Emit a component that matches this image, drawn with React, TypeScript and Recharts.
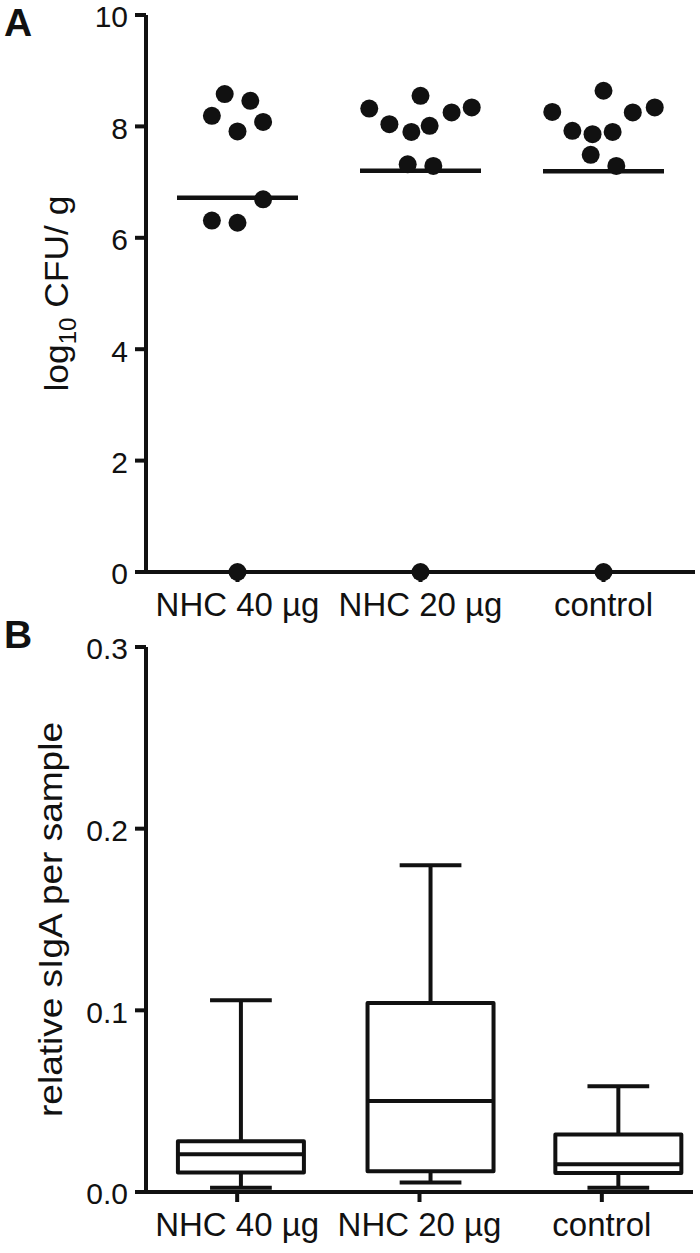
import React from 'react'
import { ComposedChart, Scatter, Bar, XAxis, YAxis } from 'recharts'

const groups = ['NHC 40 µg', 'NHC 20 µg', 'control']

// A: log10 CFU/g per animal; spread = horizontal place inside the column (category units)
const cfuNhc40 = [8.58, 8.46, 8.19, 8.08, 7.91, 6.69, 6.31, 6.27, 0]
const spreadNhc40 = [-0.07, 0.07, -0.14, 0.14, 0, 0.14, -0.14, 0, 0]
const cfuNhc20 = [8.32, 8.55, 8.04, 7.9, 8.01, 8.25, 8.34, 7.32, 7.29, 0]
const spreadNhc20 = [-0.28, 0, -0.17, -0.05, 0.05, 0.17, 0.28, -0.07, 0.07, 0]
const cfuControl = [8.64, 8.26, 8.34, 8.25, 7.92, 7.86, 7.9, 7.49, 7.29, 0]
const spreadControl = [0, -0.28, 0.28, 0.16, -0.17, -0.06, 0.05, -0.07, 0.07, 0]
const cfuTicks = [0, 2, 4, 6, 8, 10]

// B: relative sIgA, box and whiskers (min / Q1 / median / Q3 / max)
const sigaMin = [0.0024, 0.0052, 0.0024]
const sigaQ1 = [0.0107, 0.0114, 0.0105]
const sigaMedian = [0.0208, 0.0501, 0.0153]
const sigaQ3 = [0.0279, 0.1041, 0.0316]
const sigaMax = [0.1056, 0.1799, 0.0582]
const boxCenter = [0.02, 1.06, 2.09]
const sigaTicks = [0, 0.1, 0.2, 0.3]

const INK = '#111'
const FONT = '"Liberation Sans", Arial, Helvetica, sans-serif'
const LW = 4

const cfuSets = [
  { v: cfuNhc40, s: spreadNhc40 },
  { v: cfuNhc20, s: spreadNhc20 },
  { v: cfuControl, s: spreadControl },
]
const dots = cfuSets.flatMap((g, i) => g.v.map((v, k) => ({ x: i + g.s[k], y: v })))
const means = cfuSets.map((g, i) => ({ x: i, y: g.v.reduce((a, b) => a + b, 0) / g.v.length }))

const boxes = groups.map((g, i) => ({
  x: boxCenter[i], min: sigaMin[i], q1: sigaQ1[i], med: sigaMedian[i], q3: sigaQ3[i], max: sigaMax[i],
}))

const Dot = (p: any) => <circle cx={p.cx} cy={p.cy} r={9} fill={INK} />
const MeanLine = (p: any) => (
  <line x1={p.cx - 60.5} x2={p.cx + 60.5} y1={p.cy} y2={p.cy} stroke={INK} strokeWidth={4.5} />
)

function BoxShape(props: any) {
  const { x, y, width, height, payload: d } = props
  const py = (v: number) => y + ((d.max - v) / (d.max - d.min)) * height
  const cx = x + width / 2
  const cap = width * 0.245
  const yMax = py(d.max), yQ3 = py(d.q3), yMed = py(d.med), yQ1 = py(d.q1), yMin = py(d.min)
  return (
    <g stroke={INK} strokeWidth={LW} fill="none" strokeLinejoin="round">
      <line x1={cx} x2={cx} y1={yMax} y2={yQ3} />
      <line x1={cx} x2={cx} y1={yQ1} y2={yMin} />
      <line x1={cx - cap} x2={cx + cap} y1={yMax} y2={yMax} />
      <line x1={cx - cap} x2={cx + cap} y1={yMin} y2={yMin} />
      <rect x={x} y={yQ3} width={width} height={yQ1 - yQ3} fill="#fff" />
      <line x1={x} x2={x + width} y1={yMed} y2={yMed} />
    </g>
  )
}

// y tick text, kept a touch low so the top label stays inside the page
const makeYTick = (fmt: (v: number) => string) => (p: any) => (
  <text x={p.x} y={p.y} dy={12.4} textAnchor="end" fontSize={30} fill={INK} fontFamily={FONT}>
    {fmt(p.payload.value)}
  </text>
)
const CfuTick = makeYTick((v) => String(v))
const SigaTick = makeYTick((v) => v.toFixed(1))

function CfuLabel({ viewBox }: any) {
  const cy = viewBox.y + viewBox.height / 2
  return (
    <text x={68} y={cy} transform={`rotate(-90, 68, ${cy})`} textAnchor="middle" fontSize={34} fill={INK}
      fontFamily={FONT} textLength={196} lengthAdjust="spacingAndGlyphs">
      log<tspan fontSize={23} dy={8}>10</tspan><tspan dy={-8}> CFU/ g</tspan>
    </text>
  )
}

function SigaLabel({ viewBox }: any) {
  const cy = viewBox.y + viewBox.height / 2
  return (
    <text x={62} y={cy} transform={`rotate(-90, 62, ${cy})`} textAnchor="middle" fontSize={34} fill={INK}
      fontFamily={FONT} textLength={395} lengthAdjust="spacingAndGlyphs">
      relative sIgA per sample
    </text>
  )
}

const axisLine = { stroke: INK, strokeWidth: LW }
const xTick = { fontSize: 33, fill: INK, fontFamily: FONT }
const letter: React.CSSProperties = {
  position: 'absolute', left: 4, fontFamily: FONT, fontWeight: 700, fontSize: 39, color: INK, lineHeight: 1,
}

export default function App() {
  return (
    <div style={{ position: 'absolute', left: 0, top: 0, width: 700, height: 1253, background: '#fff' }}>
      <div style={{ ...letter, top: 3 }}>A</div>
      <div style={{ ...letter, top: 615 }}>B</div>

      <div style={{ position: 'absolute', left: 0, top: 0 }}>
        <ComposedChart width={700} height={640} margin={{ top: 15, right: 5, bottom: 0, left: 0 }}>
          <XAxis
            type="number" dataKey="x" domain={[-0.5, 2.5]} ticks={[0, 1, 2]} allowDataOverflow
            tickFormatter={(i: number) => groups[i]} interval={0} height={68}
            axisLine={axisLine} tickLine={axisLine} tickSize={10} tickMargin={11} tick={xTick}
          />
          <YAxis
            type="number" dataKey="y" domain={[0, 10]} ticks={cfuTicks} width={146} interval={0}
            axisLine={axisLine} tickLine={axisLine} tickSize={11} tickMargin={7} tick={CfuTick}
            label={<CfuLabel />}
          />
          <Scatter data={means} shape={MeanLine} isAnimationActive={false} />
          <Scatter data={dots} shape={Dot} isAnimationActive={false} />
        </ComposedChart>
      </div>

      <div style={{ position: 'absolute', left: 0, top: 630 }}>
        <ComposedChart width={700} height={623} data={boxes} margin={{ top: 17, right: 7, bottom: 0, left: 0 }}>
          <XAxis
            type="number" dataKey="x" domain={[-0.5, 2.5]} ticks={[0, 1, 2]} allowDataOverflow
            tickFormatter={(i: number) => groups[i]} interval={0} height={61}
            axisLine={axisLine} tickLine={axisLine} tickSize={10} tickMargin={11} tick={xTick}
          />
          <YAxis
            type="number" domain={[0, 0.3]} ticks={sigaTicks} width={146} interval={0}
            axisLine={axisLine} tickLine={axisLine} tickSize={11} tickMargin={7} tick={SigaTick}
            label={<SigaLabel />}
          />
          <Bar dataKey={(d: any) => [d.min, d.max]} barSize={126} shape={BoxShape} isAnimationActive={false} />
        </ComposedChart>
      </div>
    </div>
  )
}
